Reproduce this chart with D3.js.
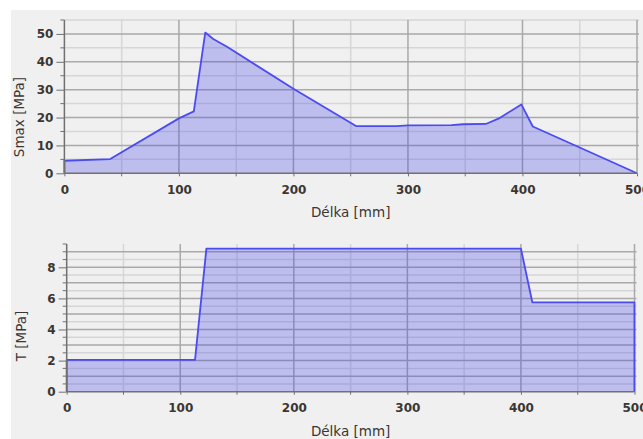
<!DOCTYPE html>
<html>
<head>
<meta charset="utf-8">
<script src="https://cdn.jsdelivr.net/npm/d3@7"></script>
<style>
  body { margin: 0; background: #fff; }
  svg { display: block; }
  .tick text { font-family: "DejaVu Sans", sans-serif; font-size: 12px; font-weight: bold; fill: #3b3632; }
  .title { font-family: "DejaVu Sans", sans-serif; font-size: 13.5px; fill: #3b3632; }
</style>
</head>
<body>
<div id="chart"></div>
<script>
// top chart: max stress along the length
const lengthTop = [0, 40, 100, 113, 123, 130, 142, 200, 255, 290, 300, 338, 348, 368, 379, 399, 409, 448, 500];
const smax      = [4.5, 5.1, 19.7, 22.2, 50.5, 48.2, 45.4, 30.3, 16.9, 16.9, 17.2, 17.3, 17.6, 17.7, 19.6, 24.7, 16.8, 9.6, 0];

// bottom chart: shear stress
const lengthBot = [0, 113, 123, 400, 410, 500];
const tau       = [2.05, 2.05, 9.2, 9.2, 5.75, 5.75];

const xTicks = [0, 100, 200, 300, 400, 500];
const xMinor = [50, 150, 250, 350, 450];

const W = 643, H = 439;

const svg = d3.select("#chart").append("svg")
  .attr("width", W).attr("height", H);

// gray panel background
svg.append("rect")
  .attr("x", 11).attr("y", 10)
  .attr("width", W - 11).attr("height", H - 10)
  .attr("fill", "#f0f0f0");

function drawPanel(cfg) {
  const x = d3.scaleLinear().domain([0, 500]).range([cfg.left, cfg.right]);
  const y = d3.scaleLinear().domain([0, cfg.yMax]).range([cfg.bottom, cfg.top]);
  const g = svg.append("g");

  // minor grid
  g.append("g").selectAll("line")
    .data(cfg.yMinor).join("line")
    .attr("x1", cfg.left).attr("x2", cfg.right + 2)
    .attr("y1", d => y(d)).attr("y2", d => y(d))
    .attr("stroke", "#d6d6d6").attr("stroke-width", 1.5);
  g.append("g").selectAll("line")
    .data(xMinor).join("line")
    .attr("x1", d => x(d)).attr("x2", d => x(d))
    .attr("y1", cfg.top).attr("y2", cfg.bottom)
    .attr("stroke", "#d6d6d6").attr("stroke-width", 1.5);

  // major grid
  g.append("g").selectAll("line")
    .data(cfg.yMajor).join("line")
    .attr("x1", cfg.left).attr("x2", cfg.right + 2)
    .attr("y1", d => y(d)).attr("y2", d => y(d))
    .attr("stroke", "#a9a9a9").attr("stroke-width", 1.5);
  g.append("g").selectAll("line")
    .data(xTicks.slice(1)).join("line")
    .attr("x1", d => x(d)).attr("x2", d => x(d))
    .attr("y1", cfg.top).attr("y2", cfg.bottom)
    .attr("stroke", "#a9a9a9").attr("stroke-width", 1.5);

  const pts = cfg.xs.map((d, i) => [d, cfg.ys[i]]);
  const area = d3.area()
    .x(d => x(d[0])).y0(y(0)).y1(d => y(d[1]));
  g.append("path")
    .datum(pts)
    .attr("d", area)
    .attr("fill", "rgb(60,60,235)")
    .attr("fill-opacity", 0.28);

  const outline = [[pts[0][0], 0], ...pts, [pts[pts.length - 1][0], 0]];
  g.append("path")
    .datum(outline)
    .attr("d", d3.line().x(d => x(d[0])).y(d => y(d[1])))
    .attr("fill", "none")
    .attr("stroke", "#4b4bf2")
    .attr("stroke-width", 1.8)
    .attr("stroke-linejoin", "round");

  // axes
  const axisColor = "#707070";
  const xa = g.append("g")
    .attr("transform", `translate(0,${cfg.bottom})`)
    .call(d3.axisBottom(x).tickValues(xTicks).tickSize(3).tickPadding(9));
  xa.append("g").selectAll("line")
    .data(xMinor).join("line")
    .attr("x1", d => x(d)).attr("x2", d => x(d))
    .attr("y1", 0).attr("y2", 3)
    .attr("stroke", axisColor);

  const ya = g.append("g")
    .attr("transform", `translate(${cfg.left},0)`)
    .call(d3.axisLeft(y).tickValues(cfg.yLabels).tickSize(8).tickPadding(3)
      .tickFormat(d3.format("d")));
  ya.append("g").selectAll("line")
    .data(cfg.yMinorTicks).join("line")
    .attr("x1", -4).attr("x2", 0)
    .attr("y1", d => y(d)).attr("y2", d => y(d))
    .attr("stroke", axisColor);

  [xa, ya].forEach(a => {
    a.select(".domain").attr("stroke", axisColor).attr("stroke-width", 1.5);
    a.selectAll(".tick line").attr("stroke", axisColor);
  });
  xa.select(".domain").attr("d", `M${cfg.left},0H${cfg.right}`);
  ya.select(".domain").attr("d", `M0,${cfg.top}V${cfg.bottom}`);

  g.append("text").attr("class", "title")
    .attr("x", (cfg.left + cfg.right) / 2)
    .attr("y", cfg.xTitleY)
    .attr("text-anchor", "middle")
    .text("Délka [mm]");

  g.append("text").attr("class", "title")
    .attr("transform", `translate(${cfg.yTitleX},${cfg.yTitleMid}) rotate(-90)`)
    .attr("text-anchor", "middle")
    .text(cfg.yTitle);
}

drawPanel({
  left: 64.4, right: 637, top: 20, bottom: 173.3, yMax: 55,
  xs: lengthTop, ys: smax,
  yLabels: [0, 10, 20, 30, 40, 50],
  yMajor: [10, 20, 30, 40, 50],
  yMinor: [5, 15, 25, 35, 45, 55],
  yMinorTicks: [5, 15, 25, 35, 45, 55],
  xTitleY: 217, yTitleX: 24, yTitleMid: 117, yTitle: "Smax [MPa]"
});

drawPanel({
  left: 66.7, right: 634.5, top: 244, bottom: 391.7, yMax: 9.5,
  xs: lengthBot, ys: tau,
  yLabels: [0, 2, 4, 6, 8],
  yMajor: [1, 2, 3, 4, 5, 6, 7, 8, 9],
  yMinor: [0.5, 1.5, 2.5, 3.5, 4.5, 5.5, 6.5, 7.5, 8.5],
  yMinorTicks: [0.5, 1, 1.5, 2.5, 3, 3.5, 4.5, 5, 5.5, 6.5, 7, 7.5, 8.5, 9, 9.5],
  xTitleY: 436, yTitleX: 26, yTitleMid: 336, yTitle: "T [MPa]"
});
</script>
</body>
</html>
